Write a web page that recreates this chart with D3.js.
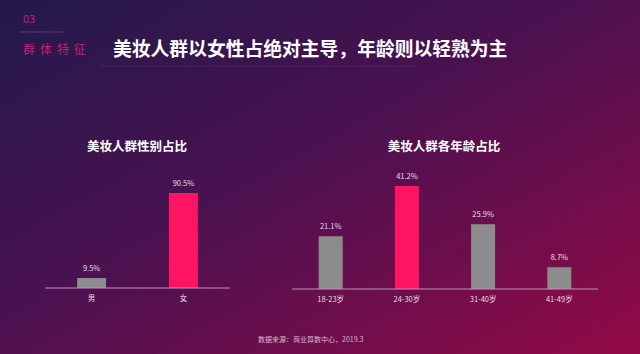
<!DOCTYPE html>
<html>
<head>
<meta charset="utf-8">
<script src="https://cdn.jsdelivr.net/npm/d3@7"></script>
<style>
  html, body { margin: 0; padding: 0; background: #3a1450; }
  svg { display: block; font-family: "Noto Sans CJK SC", "Noto Sans", sans-serif; }
</style>
</head>
<body>
<svg id="chart" width="640" height="354"></svg>
<script>
// data
const genderCats = ['男', '女'];
const genderVals = [9.5, 90.5];
const ageCats = ['18-23岁', '24-30岁', '31-40岁', '41-49岁'];
const ageVals = [21.1, 41.2, 25.9, 8.7];
const highlightGender = '女';
const highlightAge = '24-30岁';

const svg = d3.select('#chart');
const W = 640, H = 354;

// background gradient
const defs = svg.append('defs');
const grad = defs.append('linearGradient')
    .attr('id', 'bg')
    .attr('x1', '0%').attr('y1', '0%')
    .attr('x2', '100%').attr('y2', '100%');
grad.append('stop').attr('offset', '0%').attr('stop-color', '#221a4a');
grad.append('stop').attr('offset', '45%').attr('stop-color', '#4a1150');
grad.append('stop').attr('offset', '100%').attr('stop-color', '#920a46');
svg.append('rect').attr('width', W).attr('height', H).attr('fill', 'url(#bg)');

// header
svg.append('text').attr('x', 23).attr('y', 23)
    .attr('fill', '#c8206a').attr('font-size', 11).text('03');
svg.append('line').attr('x1', 20).attr('x2', 63).attr('y1', 32).attr('y2', 32)
    .attr('stroke', '#5a3a6a').attr('stroke-width', 1);
svg.append('text').attr('x', 23).attr('y', 54)
    .attr('fill', '#c8206a').attr('font-size', 12)
    .attr('letter-spacing', 5).text('群体特征');
svg.append('text').attr('x', 113).attr('y', 56)
    .attr('fill', '#ffffff').attr('font-size', 18.8).attr('font-weight', 'bold')
    .text('美妆人群以女性占绝对主导，年龄则以轻熟为主');
svg.append('line').attr('x1', 100).attr('x2', 420).attr('y1', 66).attr('y2', 66)
    .attr('stroke', '#4a3060').attr('stroke-width', 0.6);

function drawBars(cats, vals, hl, cfg) {
    const g = svg.append('g');
    const x = d3.scaleBand()
        .domain(cats)
        .range([cfg.x0, cfg.x1])
        .paddingInner(0.685)
        .paddingOuter(0.35);
    const y = d3.scaleLinear()
        .domain([0, cfg.maxV])
        .range([cfg.base, cfg.base - cfg.maxH]);

    g.append('text')
        .attr('x', cfg.titleX).attr('y', 151)
        .attr('text-anchor', 'middle')
        .attr('fill', '#ffffff').attr('font-size', 12.5).attr('font-weight', 'bold')
        .text(cfg.title);

    g.selectAll('.bar')
        .data(cats)
        .enter()
        .append('rect')
        .attr('class', 'bar')
        .attr('x', d => x(d))
        .attr('width', x.bandwidth())
        .attr('y', (d, i) => y(vals[i]))
        .attr('height', (d, i) => cfg.base - y(vals[i]))
        .attr('fill', d => d === hl ? '#ff1464' : '#8c8c8c');

    g.selectAll('.val')
        .data(cats)
        .enter()
        .append('text')
        .attr('class', 'val')
        .attr('x', d => x(d) + x.bandwidth() / 2)
        .attr('y', (d, i) => y(vals[i]) - 7)
        .attr('text-anchor', 'middle')
        .attr('fill', '#e8dcea').attr('font-size', 7.5)
        .text((d, i) => vals[i].toFixed(1) + '%');

    const axis = d3.axisBottom(x).tickSize(0).tickPadding(8);
    const ag = g.append('g')
        .attr('transform', `translate(0,${cfg.base})`)
        .call(axis);
    ag.select('.domain')
        .attr('d', `M${cfg.x0},0H${cfg.x1}`)
        .attr('stroke', '#c490b4').attr('stroke-width', 1);
    ag.selectAll('text')
        .attr('fill', '#e8dcea').attr('font-size', 7.5)
        .attr('font-family', '"Noto Sans CJK SC", sans-serif');
}

drawBars(genderCats, genderVals, highlightGender, {
    x0: 45, x1: 230, base: 288, maxV: 90.5, maxH: 95,
    title: '美妆人群性别占比', titleX: 137
});
drawBars(ageCats, ageVals, highlightAge, {
    x0: 292, x1: 598, base: 289, maxV: 41.2, maxH: 103,
    title: '美妆人群各年龄占比', titleX: 444
});

// source
svg.append('text').attr('x', 258).attr('y', 342)
    .attr('fill', '#d8b8d0').attr('font-size', 7)
    .text('数据来源：商业算数中心，2019.3');
</script>
</body>
</html>
